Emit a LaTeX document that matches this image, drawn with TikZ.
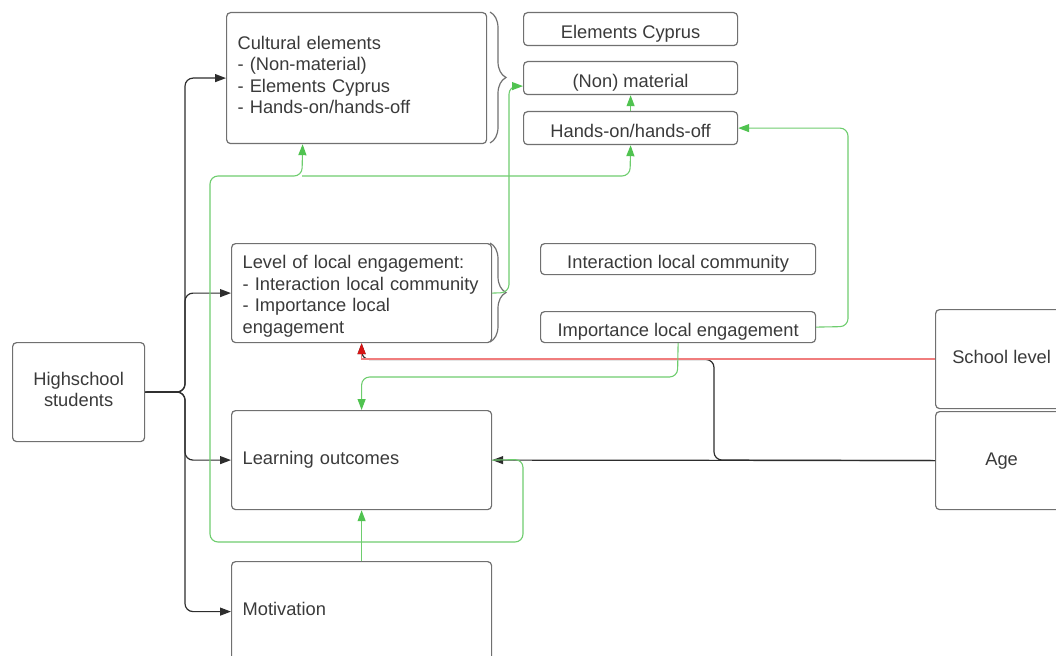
\documentclass[tikz,border=0pt]{standalone}
\usepackage{fontspec}
\setmainfont{Liberation Sans}
\usetikzlibrary{arrows.meta,decorations.pathreplacing}
\definecolor{boxc}{RGB}{112,112,112}
\definecolor{txt}{RGB}{58,58,58}
\definecolor{grn}{RGB}{110,205,110}
\definecolor{grnh}{RGB}{80,195,80}
\definecolor{lnk}{RGB}{45,45,45}
\definecolor{rd}{RGB}{240,125,125}
\definecolor{rdh}{RGB}{215,20,20}
\begin{document}
\begin{tikzpicture}[x=1pt,y=-1pt,
  box/.style={draw=boxc, line width=1.2pt, rounded corners=4pt, text=txt, inner sep=0pt, anchor=north west, font=\fontsize{18.3}{21.5}\selectfont},
  lbox/.style={box, align=left, inner xsep=11pt},
  cbox/.style={box, align=center},
  sbox/.style={cbox, text height=18pt, text depth=0pt},
  blk/.style={draw=lnk, line width=1.2pt, rounded corners=8pt, -{Triangle[length=11pt,width=8pt]}},
  gl/.style={draw=grn, line width=1.1pt, rounded corners=8pt, -{Triangle[length=11pt,width=8pt,color=grnh]}},
  rl/.style={draw=rd, line width=1.3pt, -{Triangle[length=11pt,width=8pt,color=rdh]}},
  brc/.style={draw=boxc, line width=1.2pt, decorate, decoration={brace, amplitude=16pt, aspect=0.5}}
]
\useasboundingbox (0,0) rectangle (1056,655);

% nodes
\node[lbox, minimum width=260pt, minimum height=131pt, text width=238pt, text height=13pt, text depth=70.3pt] (ce) at (226,12)
  {Cultural elements\\- (Non-material)\\- Elements Cyprus\\- Hands-on/hands-off};
\node[sbox, minimum width=214pt, minimum height=33pt] (ec) at (523,12) {Elements Cyprus};
\node[sbox, minimum width=214pt, minimum height=33pt] (nm) at (523,61) {(Non) material};
\node[sbox, minimum width=214pt, minimum height=33pt] (ho) at (523,111) {Hands-on/hands-off};
\node[lbox, minimum width=260pt, minimum height=99pt, text width=238pt, text height=13pt, text depth=61.7pt] (lv) at (231,243)
  {Level of local engagement:\\- Interaction local community\\- Importance local\\engagement};
\node[sbox, minimum width=275pt, minimum height=31pt] (ilc) at (540,243) {Interaction local community};
\node[sbox, minimum width=275pt, minimum height=31pt] (ile) at (540,311) {Importance local engagement};
\node[cbox, minimum width=132pt, minimum height=99pt, text height=34.5pt, text depth=4.8pt] (hs) at (12,342) {Highschool\\students};
\node[lbox, minimum width=260pt, minimum height=99pt, text width=238pt] (lo) at (231,410) {Learning outcomes};
\node[lbox, minimum width=260pt, minimum height=100pt, text width=238pt, text height=13pt, text depth=5.4pt] (mot) at (231,561) {Motivation};
\node[cbox, minimum width=132pt, minimum height=99pt, text height=13pt, text depth=3.7pt] (sl) at (935,309) {School level};
\node[cbox, minimum width=132pt, minimum height=98pt] (age) at (935,411) {Age};

% braces
\draw[brc] (490,12) -- (490,143);
\draw[brc] (490,243) -- (490,342);

% black tree from highschool students
\coordinate (j) at (185,392);
\draw[blk] (hs.east) -- (j) |- (ce.west);
\draw[blk] (hs.east) -- (j) |- (lv.west);
\draw[blk] (hs.east) -- (j) |- (lo.west);
\draw[blk] (hs.east) -- (j) |- (mot.west);

% age
\draw[blk] (age.west) -- (lo.east);
\draw[blk] (age.west) -- (714,460) -- (714,359.5) -| (lv.south);

% school level
\draw[rl] (sl.west) -| (lv.south);

% green connectors
\draw[gl] (lv.east) -- (509,292.5) |- ([yshift=-8pt]nm.west);
\coordinate (gb) at (302,176);
\draw[gl] (lo.east) -- (523,459.5) -- (523,542) -- (210,542) -- (210,176) -- (gb) -- ([xshift=-54pt]ce.south);
\draw[gl] (gb) -- (630,176) -- (ho.south);
\draw[gl] (mot.north) -- (lo.south);
\draw[gl] (ile.south) -- (677.5,377) -| (lo.north);
\draw[gl] (ile.east) -- (848,326.5) |- (ho.east);
\draw[gl] (ho.north) -- (nm.south);
\end{tikzpicture}
\end{document}
